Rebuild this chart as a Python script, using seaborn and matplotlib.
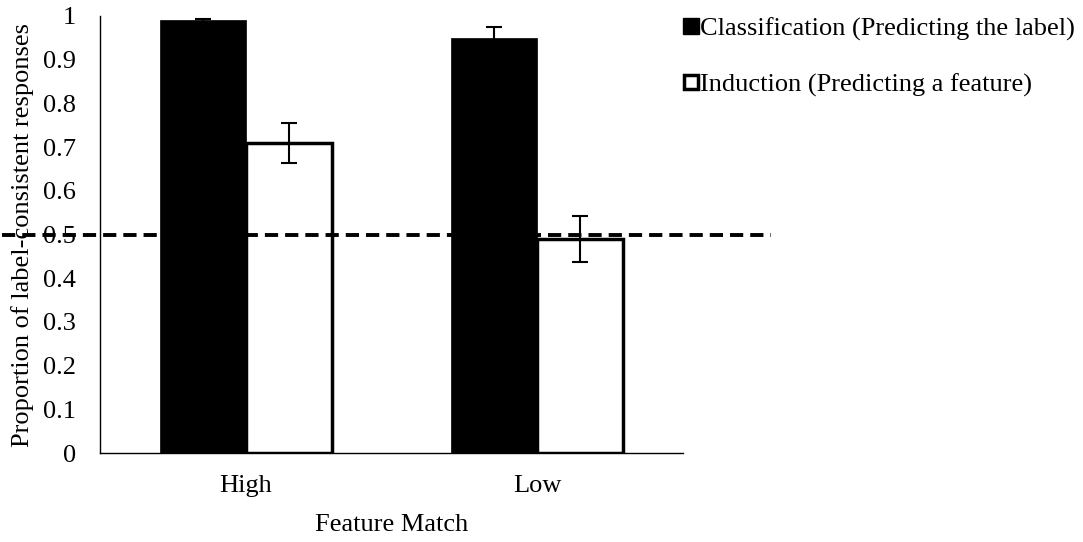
import matplotlib
matplotlib.use("Agg")
import matplotlib.pyplot as plt
import seaborn as sns
import pandas as pd
from matplotlib.lines import Line2D

categories = ["High", "Low"]
series = ["Classification (Predicting the label)", "Induction (Predicting a feature)"]
classification = [0.99, 0.95]
classification_err = [0.003, 0.025]
induction = [0.71, 0.49]
induction_err = [0.046, 0.053]
chance = 0.5
yticks = [0, 0.1, 0.2, 0.3, 0.4, 0.5, 0.6, 0.7, 0.8, 0.9, 1]
ytick_labels = ["0", "0.1", "0.2", "0.3", "0.4", "0.5", "0.6", "0.7", "0.8", "0.9", "1"]

df = pd.DataFrame({
    "Feature Match": categories * 2,
    "series": [series[0]] * 2 + [series[1]] * 2,
    "value": classification + induction,
    "err": classification_err + induction_err,
})

sns.set_style("white")
plt.rcParams["font.family"] = ["Liberation Serif", "DejaVu Serif"]
plt.rcParams["font.size"] = 19
plt.rcParams["text.color"] = "black"
plt.rcParams["axes.labelcolor"] = "black"
plt.rcParams["xtick.color"] = "black"
plt.rcParams["ytick.color"] = "black"

FS = 19

fig = plt.figure(figsize=(10.83, 5.42), dpi=100)
ax = fig.add_axes([0.0923, 0.164, 0.5384, 0.8065])

sns.barplot(data=df, x="Feature Match", y="value", hue="series", order=categories,
            hue_order=series, palette=["black", "white"], width=0.59, errorbar=None,
            ax=ax, legend=False, saturation=1)

bars = [p for p in ax.patches]
for p in bars:
    fc = p.get_facecolor()
    p.set_edgecolor("black")
    p.set_linewidth(2.5 if fc[0] > 0.5 else 0.5)

xs = [p.get_x() + p.get_width() / 2 for p in bars]
hs = [p.get_height() for p in bars]
errs = classification_err + induction_err
ax.errorbar(xs, hs, yerr=errs, fmt="none", ecolor="black", elinewidth=1.5,
            capsize=6, capthick=1.5, zorder=5)

ax.plot([-0.168, 1.15], [chance, chance], transform=ax.get_yaxis_transform(),
        color="black", linestyle=(0, (3.4, 1.8)), linewidth=2.8, clip_on=False, zorder=6)

ax.set_xlim(-0.5, 1.5)
ax.set_ylim(0, 1)
ax.set_yticks(yticks)
ax.set_yticklabels(ytick_labels)
ax.set_xticks([-0.5, 0.5, 1.5])
ax.set_xticklabels(["", "", ""])
ax.set_xticks([0, 1], minor=True)
ax.set_xticklabels(categories, minor=True)
ax.tick_params(axis="x", which="major", direction="out", length=6, width=1, color="black")
ax.tick_params(axis="x", which="minor", length=0, pad=16, labelsize=FS, labelcolor="black")
ax.tick_params(axis="y", direction="out", length=6, width=1, color="black",
               labelsize=FS, labelcolor="black", pad=11)

for s in ["top", "right"]:
    ax.spines[s].set_visible(False)
for s in ["left", "bottom"]:
    ax.spines[s].set_color("black")
    ax.spines[s].set_linewidth(1)

ax.set_xlabel("Feature Match", fontsize=FS, labelpad=12, color="black")
ax.set_ylabel("Proportion of label-consistent responses", fontsize=FS, labelpad=7, color="black")

handles = [
    Line2D([], [], marker="s", linestyle="none", markersize=11, markerfacecolor="black",
           markeredgecolor="black"),
    Line2D([], [], marker="s", linestyle="none", markersize=10, markerfacecolor="white",
           markeredgecolor="black", markeredgewidth=2.5),
]
fig.legend(handles, series, loc="upper left", bbox_to_anchor=(0.616, 1.0),
           frameon=False, handlelength=0.5, handletextpad=0.1, labelspacing=1.2,
           fontsize=FS, borderaxespad=0.25)

fig.savefig("out.png", dpi=100)
